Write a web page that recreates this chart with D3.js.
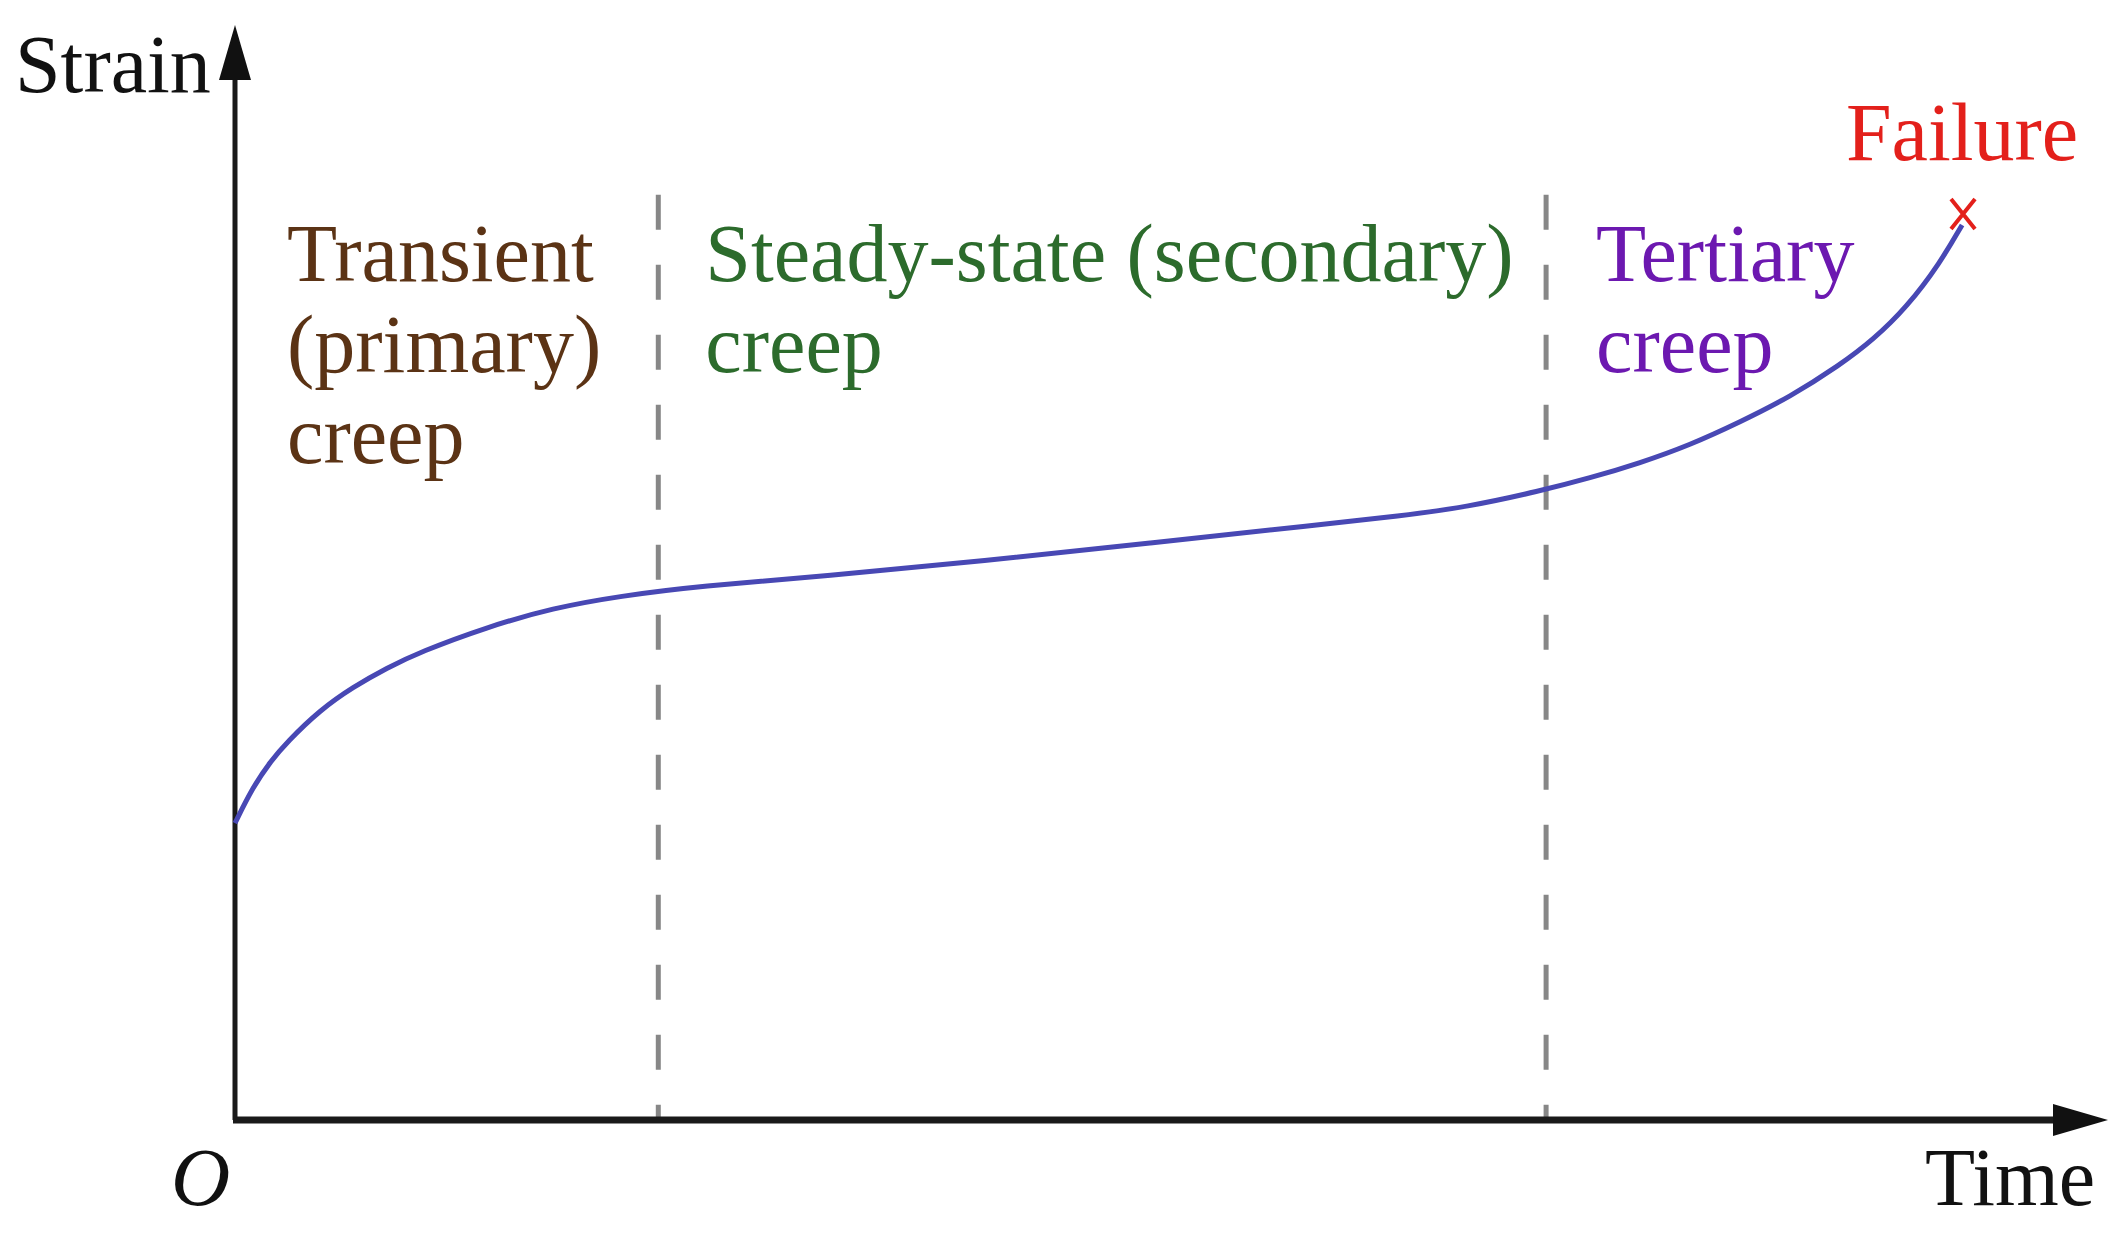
<!DOCTYPE html>
<html lang="en">
<head>
    <title>Creep curve</title>
    <meta charset="utf-8">
    <script src="https://d3js.org/d3.v7.min.js"></script>
</head>
<style>
  body {
    margin: 0;
    background: white;
  }
  text {
    font-family: "Liberation Serif", "Times New Roman", serif;
  }
</style>
<body>
<div id="creep_graph"></div>
</body>
<script>

// curve (time, strain in arbitrary units 0-100)
var time = [0, 0.96, 1.87, 2.78, 4.54, 6.30, 8.11, 9.87, 13.45, 16.97, 20.55, 24.83, 31.50, 39.94,
  48.85, 57.77, 62.20, 65.78, 69.67, 72.34, 75.01, 77.68, 80.35, 83.02, 85.69, 87.45, 89.27, 91.03, 92.21];
var strain = [27.12, 30.41, 32.69, 34.52, 37.44, 39.54, 41.28, 42.74, 45.02, 46.76, 47.85, 48.77, 49.68, 51.05,
  52.69, 54.34, 55.16, 55.98, 57.44, 58.63, 60.00, 61.64, 63.74, 66.03, 68.95, 71.23, 74.25, 78.26, 81.74];

// stage boundaries and labels
var phaseStart = [0, 22.6, 70.0];
var phaseLabels = [
  ["Transient", "(primary)", "creep"],
  ["Steady-state (secondary)", "creep"],
  ["Tertiary", "creep"]
];
var phaseColor = ["#5b3315", "#2c6b2c", "#6c18b0"];
var dashTop = 84.5;
var failure = [92.26, 82.74];

var width = 2127;
var height = 1234;

var svg = d3.select("#creep_graph")
  .append("svg")
  .attr("width", width)
  .attr("height", height);

var x = d3.scaleLinear()
  .domain([0, 100])
  .range([235, 2108]);

var y = d3.scaleLinear()
  .domain([0, 100])
  .range([1120, 25]);

var arrowLen = 55;
var arrowHalf = 16;

// dashed stage boundaries
svg.append("g")
  .selectAll("line")
  .data(phaseStart.slice(1))
  .enter().append("line")
  .attr("x1", d => x(d))
  .attr("x2", d => x(d))
  .attr("y1", y(dashTop))
  .attr("y2", y(0))
  .attr("stroke", "#878787")
  .attr("stroke-width", 5)
  .attr("stroke-dasharray", "35 35");

// axes with arrows
svg.append("line")
  .attr("x1", x(0))
  .attr("y1", y(0))
  .attr("x2", x(0))
  .attr("y2", y(100) + arrowLen)
  .attr("stroke", "#1a1a1a")
  .attr("stroke-width", 5);

svg.append("line")
  .attr("x1", x(0) - 2)
  .attr("y1", y(0))
  .attr("x2", x(100) - arrowLen)
  .attr("y2", y(0))
  .attr("stroke", "#1a1a1a")
  .attr("stroke-width", 7);

svg.append("path")
  .attr("d", "M" + x(0) + "," + y(100) + "L" + (x(0) - arrowHalf) + "," + (y(100) + arrowLen) +
    "L" + (x(0) + arrowHalf) + "," + (y(100) + arrowLen) + "Z")
  .attr("fill", "#111");

svg.append("path")
  .attr("d", "M" + x(100) + "," + y(0) + "L" + (x(100) - arrowLen) + "," + (y(0) - arrowHalf) +
    "L" + (x(100) - arrowLen) + "," + (y(0) + arrowHalf) + "Z")
  .attr("fill", "#111");

// creep curve
var line = d3.line()
  .x(d => x(d[0]))
  .y(d => y(d[1]))
  .curve(d3.curveBasis);

svg.append("path")
  .datum(time.map((t, i) => [t, strain[i]]))
  .attr("d", line)
  .attr("fill", "none")
  .attr("stroke", "#4848b4")
  .attr("stroke-width", 5);

// failure mark
var fx = x(failure[0]);
var fy = y(failure[1]);
svg.append("path")
  .attr("d", "M" + (fx - 12) + "," + (fy - 15) + "L" + (fx + 12) + "," + (fy + 15) +
    "M" + (fx + 12) + "," + (fy - 15) + "L" + (fx - 12) + "," + (fy + 15))
  .attr("stroke", "#e3201b")
  .attr("stroke-width", 4)
  .attr("fill", "none");

svg.append("text")
  .attr("x", 1846)
  .attr("y", 160)
  .attr("font-size", "82px")
  .attr("fill", "#e3201b")
  .text("Failure");

// stage labels
var labelOffset = [52, 47, 50];
phaseLabels.forEach(function(lines, i) {
  svg.append("text")
    .attr("x", x(phaseStart[i]) + labelOffset[i])
    .attr("y", 281)
    .attr("font-size", "82px")
    .attr("fill", phaseColor[i])
    .selectAll("tspan")
    .data(lines)
    .enter().append("tspan")
    .attr("x", x(phaseStart[i]) + labelOffset[i])
    .attr("dy", (d, j) => j == 0 ? 0 : 91)
    .text(d => d);
});

// axis labels
svg.append("text")
  .attr("x", 15)
  .attr("y", 92)
  .attr("font-size", "82px")
  .attr("fill", "#111")
  .text("Strain");

svg.append("text")
  .attr("x", 1925)
  .attr("y", 1205)
  .attr("font-size", "82px")
  .attr("fill", "#111")
  .text("Time");

svg.append("text")
  .attr("x", 171)
  .attr("y", 1205)
  .attr("font-size", "82px")
  .attr("font-style", "italic")
  .attr("fill", "#111")
  .text("O");

</script>
</html>
